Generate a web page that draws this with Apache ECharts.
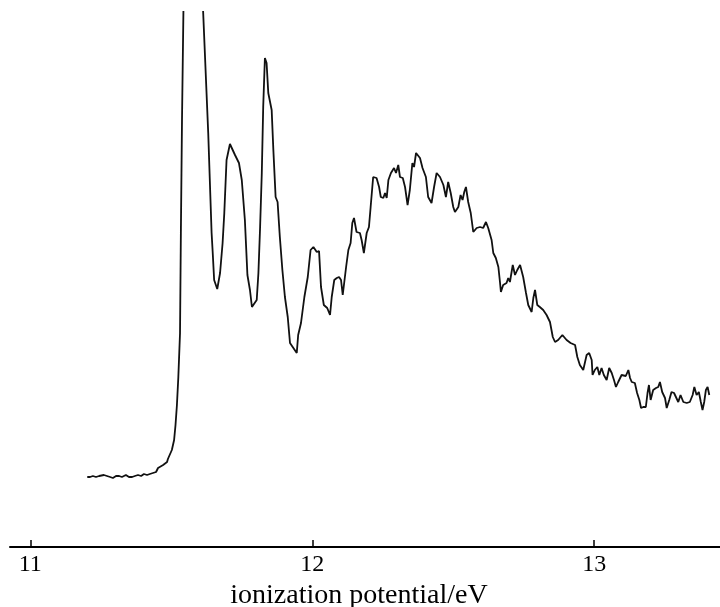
<!DOCTYPE html>
<html>
<head>
<meta charset="utf-8">
<script src="https://cdn.jsdelivr.net/npm/echarts@6/dist/echarts.min.js"></script>
<style>
  html, body { margin: 0; padding: 0; background: #fff; }
  #chart { width: 720px; height: 607px; }
</style>
</head>
<body>
<div id="chart"></div>
<script>
// Photoelectron spectrum: ionization potential (eV) vs. intensity (arbitrary units)
const ionizationEnergy = [
  11.202, 11.212, 11.222, 11.233, 11.244, 11.251, 11.261, 11.272, 11.283, 11.293,
  11.304, 11.315, 11.325, 11.339, 11.350, 11.361, 11.371, 11.382, 11.393, 11.403,
  11.414, 11.424, 11.435, 11.446, 11.453, 11.460, 11.471, 11.478, 11.485, 11.488,
  11.495, 11.502, 11.510, 11.515, 11.520, 11.525, 11.531, 11.534, 11.538, 11.543,
  11.549, 11.566, 11.602, 11.613, 11.631, 11.643, 11.647, 11.652, 11.663, 11.673,
  11.682, 11.688, 11.696, 11.708, 11.726, 11.740, 11.750, 11.761, 11.770, 11.779,
  11.786, 11.793, 11.803, 11.809, 11.815, 11.821, 11.826, 11.832, 11.838, 11.844,
  11.856, 11.862, 11.870, 11.877, 11.885, 11.894, 11.903, 11.913, 11.921, 11.933,
  11.945, 11.950, 11.960, 11.972, 11.984, 11.994, 12.004, 12.010, 12.016, 12.024,
  12.031, 12.041, 12.053, 12.063, 12.069, 12.078, 12.087, 12.095, 12.102, 12.108,
  12.113, 12.120, 12.128, 12.136, 12.142, 12.148, 12.157, 12.169, 12.175, 12.183,
  12.193, 12.201, 12.207, 12.216, 12.228, 12.237, 12.243, 12.252, 12.258, 12.264,
  12.270, 12.279, 12.290, 12.297, 12.305, 12.311, 12.321, 12.329, 12.338, 12.346,
  12.355, 12.361, 12.368, 12.382, 12.391, 12.403, 12.411, 12.423, 12.432, 12.441,
  12.453, 12.465, 12.474, 12.482, 12.491, 12.500, 12.506, 12.518, 12.526, 12.533,
  12.539, 12.545, 12.553, 12.562, 12.571, 12.583, 12.595, 12.606, 12.616, 12.624,
  12.636, 12.642, 12.651, 12.660, 12.666, 12.669, 12.677, 12.689, 12.695, 12.701,
  12.711, 12.719, 12.727, 12.737, 12.748, 12.758, 12.766, 12.778, 12.784, 12.790,
  12.798, 12.807, 12.819, 12.831, 12.843, 12.853, 12.861, 12.872, 12.887, 12.902,
  12.916, 12.932, 12.940, 12.949, 12.961, 12.967, 12.973, 12.982, 12.991, 12.994,
  13.002, 13.011, 13.018, 13.026, 13.034, 13.044, 13.053, 13.062, 13.070, 13.077,
  13.085, 13.097, 13.112, 13.121, 13.127, 13.133, 13.144, 13.152, 13.160, 13.166,
  13.174, 13.183, 13.189, 13.194, 13.200, 13.209, 13.219, 13.227, 13.233, 13.241,
  13.251, 13.257, 13.266, 13.274, 13.283, 13.290, 13.298, 13.306, 13.316, 13.328,
  13.339, 13.349, 13.355, 13.363, 13.371, 13.378, 13.384, 13.390, 13.396, 13.402,
  13.408
];

const intensity = [
   70,  70,  71,  70,  71,  70,  72,  71,  70,  69,
   71,  71,  70,  72,  70,  70,  71,  72,  71,  73,
   72,  73,  74,  75,  79,  81,  82,  83,  85,  88,
   90,  97, 107, 122, 142, 170, 214, 314, 427, 535,
  747, 947, 607, 535, 414, 314, 294, 267, 258, 274,
  304, 334, 387, 403, 392, 384, 367, 327, 272, 257,
  240, 239, 247, 274, 320, 374, 440, 489, 484, 454,
  437, 397, 350, 345, 310, 277, 250, 230, 204, 199,
  194, 212, 224, 250, 270, 297, 300, 302, 295, 296,
  260, 242, 239, 232, 250, 267, 269, 270, 267, 252,
  252, 280, 297, 304, 324, 329, 315, 314, 307, 294,
  314, 320, 340, 370, 369, 360, 350, 349, 354, 349,
  367, 374, 379, 374, 382, 370, 369, 360, 342, 357,
  384, 380, 394, 389, 379, 370, 350, 344, 360, 374,
  370, 362, 350, 365, 354, 340, 335, 340, 352, 347,
  355, 360, 345, 334, 315, 319, 320, 319, 325, 319,
  307, 294, 289, 280, 264, 255, 262, 264, 269, 265,
  282, 272, 277, 282, 270, 254, 242, 235, 249, 257,
  242, 240, 237, 232, 225, 210, 205, 207, 212, 207,
  204, 202, 190, 182, 177, 179, 192, 194, 187, 172,
  177, 180, 172, 179, 172, 167, 179, 174, 167, 160,
  165, 172, 171, 177, 169, 165, 164, 154, 147, 139,
  140, 140, 154, 162, 147, 157, 159, 160, 165, 155,
  149, 139, 147, 155, 154, 152, 145, 152, 145, 144,
  145, 152, 160, 152, 155, 145, 137, 145, 157, 160,
  152
];

const tickValues = [11, 12, 13];
const axisTitle = 'ionization potential/eV';

const seriesData = ionizationEnergy.map((e, i) => [e, intensity[i]]);

const chart = echarts.init(document.getElementById('chart'), null, { renderer: 'canvas' });

chart.setOption({
  animation: false,
  backgroundColor: '#ffffff',
  grid: {
    left: 10, right: 0, top: 12, bottom: 60,
    containLabel: false,
    outerBoundsMode: 'none'
  },
  xAxis: {
    type: 'value',
    min: 10.928,
    max: 13.446,
    axisLine: { show: true, lineStyle: { color: '#000', width: 2 } },
    axisTick: {
      show: true, inside: true, length: 7,
      customValues: tickValues,
      lineStyle: { color: '#000', width: 1.5 }
    },
    axisLabel: {
      show: true,
      customValues: tickValues,
      margin: 6,
      color: '#000',
      fontFamily: 'Liberation Serif, serif',
      fontSize: 24
    },
    splitLine: { show: false },
    name: axisTitle,
    nameLocation: 'middle',
    nameGap: 34,
    nameTextStyle: {
      color: '#000',
      fontFamily: 'Liberation Serif, serif',
      fontSize: 28,
      padding: [0, 12, 0, 0]
    }
  },
  yAxis: {
    type: 'value',
    min: 0,
    max: 535,
    show: false
  },
  series: [{
    type: 'line',
    data: seriesData,
    showSymbol: false,
    symbol: 'none',
    clip: true,
    lineStyle: { color: '#111', width: 1.8 }
  }]
});
</script>
</body>
</html>
